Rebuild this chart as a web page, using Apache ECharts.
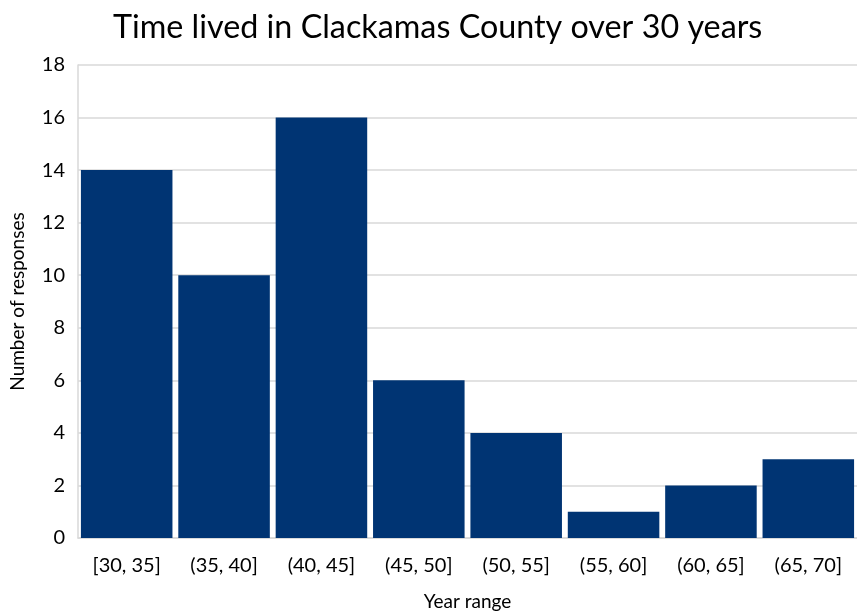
<!DOCTYPE html>
<html>
<head>
<meta charset="utf-8">
<script src="https://cdn.jsdelivr.net/npm/echarts@6/dist/echarts.min.js"></script>
<style>
  html, body { margin: 0; padding: 0; background: #fff; }
  #chart { width: 857px; height: 613px; }
</style>
</head>
<body>
<div id="chart"></div>
<script>
// Year-range bins and how many responses fell into each
const yearRanges = ['[30, 35]', '(35, 40]', '(40, 45]', '(45, 50]', '(50, 55]', '(55, 60]', '(60, 65]', '(65, 70]'];
const responseCounts = [14, 10, 16, 6, 4, 1, 2, 3];
const yTicks = { min: 0, max: 18, interval: 2 };

const font = 'Lato, "Open Sans", sans-serif';
const chart = echarts.init(document.getElementById('chart'), null, { renderer: 'canvas' });

chart.setOption({
  animation: false,
  backgroundColor: '#ffffff',
  title: {
    text: 'Time lived in Clackamas County over 30 years',
    left: 108,
    top: 7,
    textStyle: { fontFamily: font, fontSize: 32.3, fontWeight: 'normal', color: '#000' }
  },
  grid: { left: 78, right: 0, top: 65, bottom: 75, containLabel: false, outerBoundsMode: 'none' },
  xAxis: {
    type: 'category',
    data: yearRanges,
    name: 'Year range',
    nameLocation: 'middle',
    nameGap: 54,
    nameTextStyle: { fontFamily: font, fontSize: 19, color: '#000' },
    axisLine: { lineStyle: { color: '#d9d9d9', width: 1.5 } },
    axisTick: { show: false },
    axisLabel: { fontFamily: font, fontSize: 20, color: '#000', margin: 18 }
  },
  yAxis: {
    type: 'value',
    min: yTicks.min,
    max: yTicks.max,
    interval: yTicks.interval,
    name: 'Number of responses',
    nameLocation: 'middle',
    nameGap: 51,
    nameTextStyle: { fontFamily: font, fontSize: 19, color: '#000' },
    axisLine: { show: true, lineStyle: { color: '#d9d9d9', width: 1.5 } },
    axisTick: { show: false },
    axisLabel: { fontFamily: font, fontSize: 20, color: '#000', margin: 13 },
    splitLine: { lineStyle: { color: '#d9d9d9', width: 1.5 } }
  },
  series: [{
    type: 'bar',
    data: responseCounts,
    barCategoryGap: '6%',
    itemStyle: { color: '#003473' }
  }]
});
</script>
</body>
</html>
